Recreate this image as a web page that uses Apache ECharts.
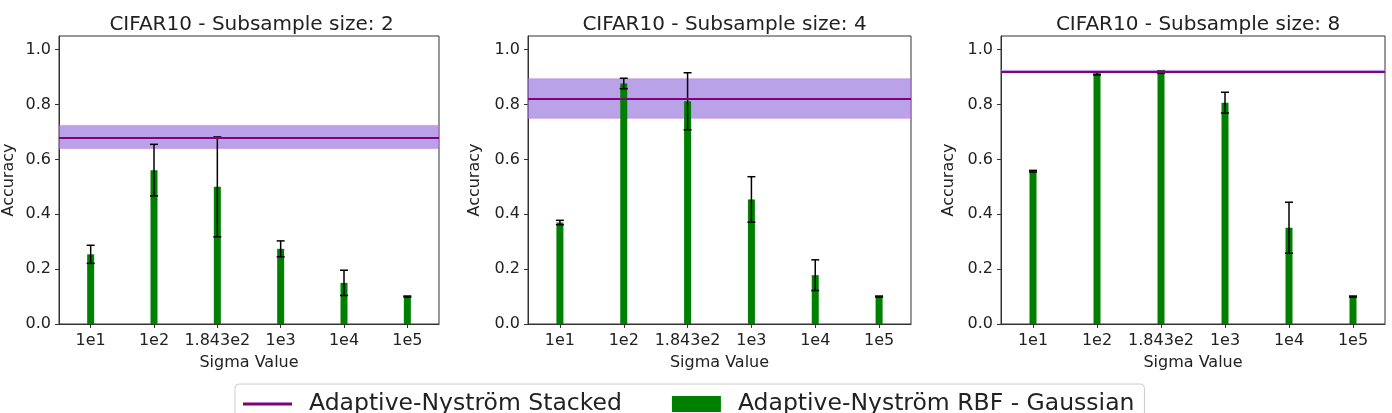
<!DOCTYPE html>
<html>
<head>
<meta charset="utf-8">
<script src="https://cdn.jsdelivr.net/npm/echarts@6/dist/echarts.min.js"></script>
<style>
html,body{margin:0;padding:0;background:#fff;}
#chart{width:1392px;height:413px;}
</style>
</head>
<body>
<div id="chart"></div>
<script>
// ---- data ----
const categories = ['1e1', '1e2', '1.843e2', '1e3', '1e4', '1e5'];
const titles = ['CIFAR10 - Subsample size: 2', 'CIFAR10 - Subsample size: 4', 'CIFAR10 - Subsample size: 8'];
const yTicks = [0, 0.2, 0.4, 0.6, 0.8, 1.0];
const rbfMean2 = [0.254, 0.561, 0.500, 0.274, 0.150, 0.100];
const rbfStd2  = [0.033, 0.094, 0.182, 0.029, 0.046, 0.002];
const rbfMean4 = [0.370, 0.877, 0.812, 0.454, 0.178, 0.100];
const rbfStd4  = [0.008, 0.019, 0.104, 0.083, 0.056, 0.002];
const rbfMean8 = [0.557, 0.912, 0.918, 0.807, 0.351, 0.100];
const rbfStd8  = [0.003, 0.004, 0.004, 0.038, 0.093, 0.002];
const stackedMean = [0.682, 0.822, 0.922];
const stackedStd  = [0.042, 0.072, 0.003];
const stackedName = 'Adaptive-Nyström Stacked';
const rbfName = 'Adaptive-Nyström RBF - Gaussian';

// ---- layout ----
const FONT = 'DejaVu Sans';
const TXT = '#222';
const AX = '#333';
const grids = [
  {left: 54, top: 36, width: 385, height: 288},
  {left: 528, top: 36, width: 383, height: 288},
  {left: 1001, top: 36, width: 384, height: 288}
];
const yNameGaps = [42, 45, 44];
const means = [rbfMean2, rbfMean4, rbfMean8];
const stds = [rbfStd2, rbfStd4, rbfStd8];

const option = {
  animation: false,
  backgroundColor: '#fff',
  title: grids.map((g, i) => ({
    text: titles[i],
    left: g.left + g.width / 2,
    top: 10,
    textAlign: 'center',
    textStyle: {fontFamily: FONT, fontSize: 20, fontWeight: 'normal', color: TXT}
  })),
  legend: {
    left: 235, top: 384,
    itemWidth: 49, itemHeight: 16, itemGap: 50,
    padding: [8, 10, 8, 8],
    borderColor: '#cccccc', borderWidth: 1, borderRadius: 4,
    backgroundColor: '#fff',
    textStyle: {fontFamily: FONT, fontSize: 23.5, color: TXT, padding: [0, 0, 0, 12]},
    data: [
      {name: stackedName, icon: 'path://M0,0H49V3H0Z', itemStyle: {color: '#800080'}},
      {name: rbfName, icon: 'rect', itemStyle: {color: '#008000'}}
    ]
  },
  grid: grids.map(g => Object.assign({show: true, borderColor: AX, borderWidth: 1, backgroundColor: 'transparent'}, g)),
  xAxis: grids.map((g, i) => ({
    type: 'category', gridIndex: i, data: categories, boundaryGap: true,
    axisLine: {show: true, lineStyle: {color: AX, width: 1}},
    axisTick: {show: true, alignWithLabel: true, length: 4, lineStyle: {color: AX}},
    axisLabel: {fontFamily: FONT, fontSize: 16, color: TXT, margin: 9, interval: 0},
    splitLine: {show: false},
    name: 'Sigma Value', nameLocation: 'middle', nameGap: 31,
    nameTextStyle: {fontFamily: FONT, fontSize: 16, color: TXT}
  })),
  yAxis: grids.map((g, i) => ({
    type: 'value', gridIndex: i, min: 0, max: 1.05, interval: 0.2,
    axisLine: {show: true, lineStyle: {color: AX, width: 1}},
    axisTick: {show: true, length: 4, lineStyle: {color: AX}, customValues: yTicks},
    axisLabel: {fontFamily: FONT, fontSize: 16, color: TXT, margin: 8,
      customValues: yTicks, formatter: v => Number(v).toFixed(1)},
    splitLine: {show: false},
    name: 'Accuracy', nameLocation: 'middle', nameGap: yNameGaps[i], nameRotate: 90,
    nameTextStyle: {fontFamily: FONT, fontSize: 16, color: TXT}
  })),
  series: []
};

grids.forEach((g, i) => {
  option.series.push({
    name: stackedName, type: 'line', xAxisIndex: i, yAxisIndex: i, z: 1,
    data: [], symbol: 'none', showSymbol: false,
    lineStyle: {color: '#800080', width: 3}, itemStyle: {color: '#800080'},
    markArea: {
      silent: true,
      itemStyle: {color: 'rgba(147,112,219,0.65)', borderColor: 'rgba(200,120,220,0.5)', borderWidth: 1},
      data: [[{yAxis: stackedMean[i] - stackedStd[i]}, {yAxis: stackedMean[i] + stackedStd[i]}]]
    },
    markLine: {
      silent: true, symbol: ['none', 'none'], label: {show: false},
      lineStyle: {color: '#800080', width: 2, type: 'solid'},
      data: [{yAxis: stackedMean[i]}]
    }
  });
  option.series.push({
    name: rbfName, type: 'bar', xAxisIndex: i, yAxisIndex: i, z: 2,
    barWidth: 7, itemStyle: {color: '#008000'},
    data: means[i]
  });
  option.series.push({
    name: 'err' + i, type: 'custom', xAxisIndex: i, yAxisIndex: i, z: 3,
    data: categories.map((c, k) => [k, means[i][k], stds[i][k]]),
    encode: {x: 0, y: 1},
    renderItem: function (params, api) {
      const x = api.value(0), m = api.value(1), s = api.value(2);
      const hi = api.coord([x, m + s]);
      const lo = api.coord([x, m - s]);
      const cap = 4;
      const st = {stroke: '#000', lineWidth: 1.5};
      return {type: 'group', children: [
        {type: 'line', shape: {x1: hi[0], y1: hi[1], x2: lo[0], y2: lo[1]}, style: st},
        {type: 'line', shape: {x1: hi[0] - cap, y1: hi[1], x2: hi[0] + cap, y2: hi[1]}, style: st},
        {type: 'line', shape: {x1: lo[0] - cap, y1: lo[1], x2: lo[0] + cap, y2: lo[1]}, style: st}
      ]};
    }
  });
});

const chart = echarts.init(document.getElementById('chart'), null, {renderer: 'canvas'});
chart.setOption(option);
</script>
</body>
</html>
